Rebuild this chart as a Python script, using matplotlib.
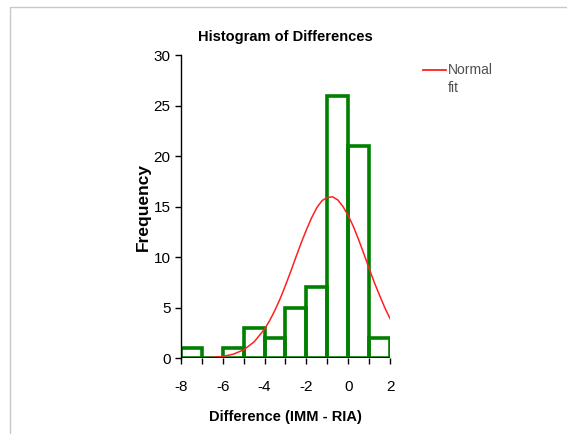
import numpy as np
import matplotlib
matplotlib.use("Agg")
import matplotlib.pyplot as plt
from matplotlib.patches import Rectangle
from matplotlib.lines import Line2D

# histogram bins (left edges) and counts
bin_left = [-8, -7, -6, -5, -4, -3, -2, -1, 0, 1]
counts = [1, 0, 1, 3, 2, 5, 7, 26, 21, 2]

# normal fit curve
fit_x = [-8, -7.5, -7, -6.5, -6, -5.5, -5, -4.5, -4, -3.75, -3.5, -3.25, -3,
         -2.75, -2.5, -2.25, -2, -1.75, -1.5, -1.25, -1, -0.75, -0.5, -0.25,
         0, 0.25, 0.5, 0.75, 1, 1.25, 1.5, 1.75, 2]
fit_y = [0.0, 0.01, 0.02, 0.06, 0.16, 0.38, 0.81, 1.6, 2.87, 3.73, 4.75, 5.9, 7.2,
         8.57, 10.0, 11.4, 12.7, 13.9, 14.9, 15.6, 15.9, 15.97, 15.66, 15.0,
         14.1, 13.0, 11.7, 10.3, 8.85, 7.46, 6.2, 4.97, 3.9]

x_ticks = [-8, -6, -4, -2, 0, 2]
y_ticks = [0, 5, 10, 15, 20, 25, 30]

plt.rcParams['font.family'] = ['Liberation Sans Narrow', 'Liberation Sans', 'DejaVu Sans']
plt.rcParams['axes.unicode_minus'] = False

fig = plt.figure(figsize=(5.67, 4.34), dpi=100)
ax = fig.add_axes([0.319, 0.175, 0.369, 0.698])

ax.bar(bin_left, counts, width=1, align='edge', fill=False,
       edgecolor='#008000', linewidth=2.6, zorder=2)
ax.plot(fit_x, fit_y, color='#ff2020', linewidth=1.1, zorder=3)
ax.axhline(0, color='black', linewidth=1.2, zorder=4)

ax.set_xlim(-8, 2)
ax.set_ylim(0, 30)
ax.set_xticks(x_ticks)
ax.set_xticks(range(-8, 3), minor=True)
ax.set_yticks(y_ticks)
ax.tick_params(axis='both', labelsize=11, length=4, width=1, direction='out')
ax.tick_params(axis='x', which='minor', length=4, width=1)
ax.tick_params(axis='x', pad=12)
ax.spines['right'].set_visible(False)
ax.spines['top'].set_visible(False)
ax.spines['bottom'].set_visible(False)
ax.spines['left'].set_linewidth(1)

ax.set_title('Histogram of Differences', fontsize=10.5, fontweight='bold', pad=10)
ax.set_xlabel('Difference (IMM - RIA)', fontsize=10.5, fontweight='bold', labelpad=11)
ax.set_ylabel('Frequency', fontsize=12.5, fontweight='bold', labelpad=2)

# legend drawn by hand to keep the line level with "Normal"
fig.add_artist(Line2D([423 / 567, 446 / 567], [1 - 70 / 434, 1 - 70 / 434],
                      color='#ff2020', linewidth=1.3))
fig.text(448 / 567, 1 - 70 / 434, 'Normal', fontsize=10, color='#505050', va='center')
fig.text(448 / 567, 1 - 88 / 434, 'fit', fontsize=10, color='#505050', va='center')

# light frame around the chart area
fig.add_artist(Rectangle((10 / 567, -0.1), 1.2, 1 - 7 / 434 + 0.1,
                         transform=fig.transFigure, fill=False,
                         edgecolor='#c8c8c8', linewidth=1))

fig.savefig('out.png', dpi=100)
